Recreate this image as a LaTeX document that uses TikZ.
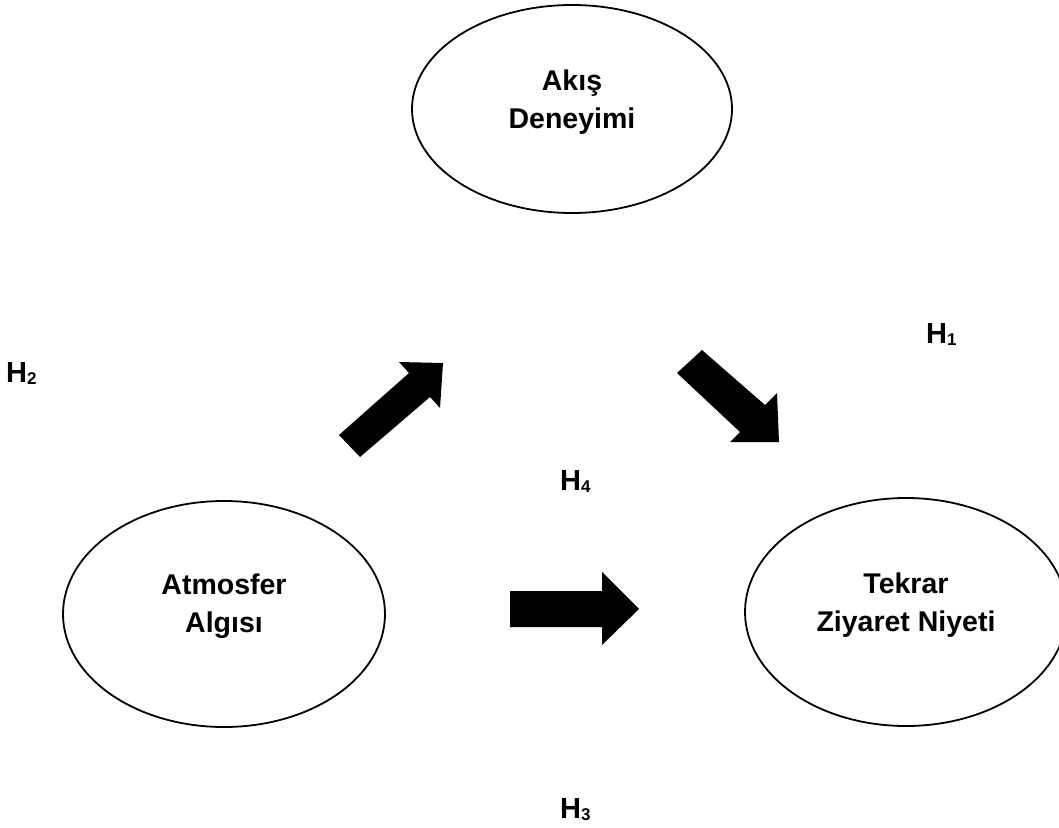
\documentclass[tikz,border=0pt]{standalone}
\usepackage{fontspec}
\setmainfont{Liberation Sans}
\usetikzlibrary{shapes.geometric}
\newcommand\hlab[1]{H\raisebox{-2pt}{\fontsize{17}{17}\selectfont #1}}
\begin{document}
\begin{tikzpicture}[x=1pt,y=-1pt,
  oval/.style={draw,line width=1.8pt,ellipse,inner sep=0pt},
  lbl/.style={font=\fontsize{28.5}{38}\selectfont\bfseries,align=center,inner sep=0pt},
  hl/.style={font=\fontsize{29}{29}\selectfont\bfseries,inner sep=0pt,anchor=base west},
  blockarrow/.style={fill=black,draw=none}]
\useasboundingbox (0,0) rectangle (1059,827);
% ellipses
\node[oval,minimum width=320pt,minimum height=208pt] (flow) at (572,109) {};
\node[oval,minimum width=322pt,minimum height=226pt] (atm) at (224,614) {};
\node[oval,minimum width=322pt,minimum height=228pt] (rev) at (906,612) {};
% texts
\node[lbl] (flowtxt) at (572,102) {Akış\\Deneyimi};
\node[lbl] (atmtxt) at (224,606) {Atmosfer\\Algısı};
\node[lbl] (revtxt) at (906,605) {Tekrar\\Ziyaret Niyeti};
% hypothesis labels
\node[hl] (h2) at (6,382) {\hlab{2}};
\node[hl] (h1) at (926,343) {\hlab{1}};
\node[hl] (h4) at (560,490) {\hlab{4}};
\node[hl] (h3) at (560,818) {\hlab{3}};
% block arrows
\fill[blockarrow] (339,435) -- (409,373) -- (399,362) -- (443,363) -- (440,408) -- (430,397) -- (360,457) -- cycle;
\fill[blockarrow] (677,373) -- (702,350) -- (765,405) -- (777,393) -- (779,442) -- (730,442) -- (740,432) -- cycle;
\fill[blockarrow] (510,591) -- (602,591) -- (602,572) -- (639,609) -- (602,645) -- (602,627) -- (510,627) -- cycle;
\end{tikzpicture}
\end{document}
